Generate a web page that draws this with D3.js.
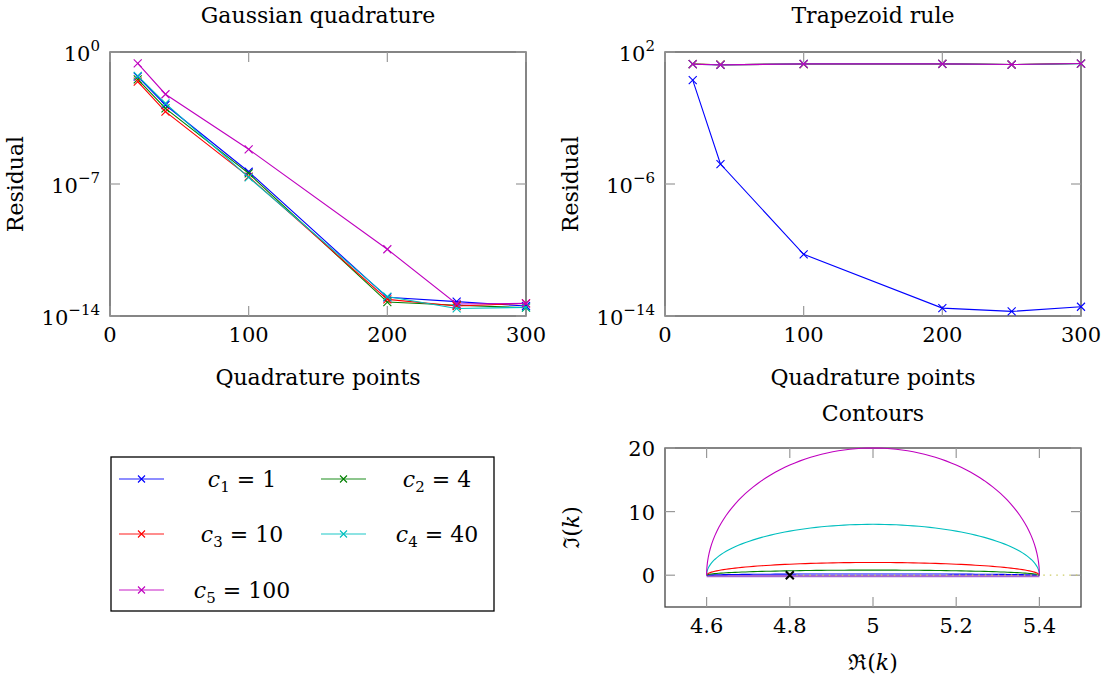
<!DOCTYPE html>
<html><head><meta charset="utf-8">
<script src="https://cdn.jsdelivr.net/npm/d3@7"></script>
<style>
body{margin:0;background:#fff;}
svg text{font-family:"DejaVu Serif","Liberation Serif",serif;fill:#000;}
</style></head>
<body><svg id="chart" width="1105" height="686"></svg>
<script>
// ---------------- data ----------------
const quadPoints = [20, 40, 100, 200, 250, 300];
const seriesNames = ["c1","c2","c3","c4","c5"];
const seriesSub = ["1","2","3","4","5"];
const seriesC = [1, 4, 10, 40, 100];
const seriesColors = ["#0000ff","#008000","#ff0000","#00bfbf","#bf00bf"];
// Gaussian quadrature residuals (log10)
const gaussC1 = [-1.31, -2.81, -6.35, -13.01, -13.24, -13.47];
const gaussC2 = [-1.45, -2.99, -6.44, -13.26, -13.43, -13.56];
const gaussC3 = [-1.57, -3.16, -6.61, -13.12, -13.47, -13.33];
const gaussC4 = [-1.27, -2.72, -6.65, -12.97, -13.60, -13.54];
const gaussC5 = [-0.60, -2.24, -5.16, -10.46, -13.36, -13.33];
// Trapezoid rule residuals (log10)
const trapC1 = [0.30, -4.79, -10.26, -13.52, -13.72, -13.44];
const trapC2 = [1.27, 1.23, 1.27, 1.28, 1.24, 1.30];
const trapC3 = [1.27, 1.23, 1.27, 1.28, 1.24, 1.30];
const trapC4 = [1.26, 1.22, 1.28, 1.28, 1.24, 1.29];
const trapC5 = [1.26, 1.22, 1.28, 1.28, 1.24, 1.30];
const gaussYTicks = [0, -7, -14];
const trapYTicks = [2, -6, -14];
const quadXTicks = [0, 100, 200, 300];
// Contours: semi-ellipses over [4.6, 5.4] with heights c/5
const contourLeft = 4.6, contourRight = 5.4;
const contourHeights = [0.2, 0.8, 2, 8, 20];
const contourXTicks = [4.6, 4.8, 5, 5.2, 5.4];
const contourYTicks = [0, 10, 20];
const markerPoint = [4.8, 0];
const dottedSegment = [[4.8, 0], [5.5, 0]];

// ---------------- drawing ----------------
const svg = d3.select("#chart");
const frameColor = "#444", tickColor = "#999", tickLen = 10;
const fs = 22, tfs = 21;

function crossPath(x, y, r) {
  return `M${x-r},${y-r}L${x+r},${y+r}M${x-r},${y+r}L${x+r},${y-r}`;
}

function frame(g, x0, x1, y0, y1) {
  g.append("rect").attr("x", x0).attr("y", y0).attr("width", x1 - x0).attr("height", y1 - y0)
    .attr("fill", "none").attr("stroke", frameColor).attr("stroke-width", 1.3);
}

function xTicks(g, xs, ticks, y0, y1, fmt) {
  ticks.forEach(t => {
    const x = xs(t);
    g.append("line").attr("x1", x).attr("x2", x).attr("y1", y1).attr("y2", y1 - tickLen).attr("stroke", tickColor).attr("stroke-width", 1.2);
    g.append("line").attr("x1", x).attr("x2", x).attr("y1", y0).attr("y2", y0 + tickLen).attr("stroke", tickColor).attr("stroke-width", 1.2);
    g.append("text").attr("x", x).attr("y", y1 + 26).attr("text-anchor", "middle").attr("font-size", tfs).text(fmt(t));
  });
}

function yTicksLog(g, ys, ticks, x0, x1) {
  ticks.forEach(t => {
    const y = ys(Math.pow(10, t));
    g.append("line").attr("x1", x0).attr("x2", x0 + tickLen).attr("y1", y).attr("y2", y).attr("stroke", tickColor).attr("stroke-width", 1.2);
    g.append("line").attr("x1", x1).attr("x2", x1 - tickLen).attr("y1", y).attr("y2", y).attr("stroke", tickColor).attr("stroke-width", 1.2);
    const tx = g.append("text").attr("x", x0 - 10).attr("y", y + 9).attr("text-anchor", "end").attr("font-size", tfs);
    tx.append("tspan").text("10");
    tx.append("tspan").attr("dy", -10).attr("font-size", 15).text(String(t).replace("-", "\u2212"));
  });
}

function logPanel(x0, x1, y0, y1, yDomain, xData, series, yTicks, title, xAxisLabel) {
  const g = svg.append("g");
  const xs = d3.scaleLinear().domain([0, 300]).range([x0, x1]);
  const ys = d3.scaleLog().domain(yDomain).range([y1, y0]);
  frame(g, x0, x1, y0, y1);
  xTicks(g, xs, quadXTicks, y0, y1, d => d);
  yTicksLog(g, ys, yTicks, x0, x1);
  const line = d3.line().x(d => xs(d[0])).y(d => ys(Math.pow(10, d[1])));
  series.forEach((vals, i) => {
    const pts = xData.map((x, j) => [x, vals[j]]);
    g.append("path").attr("d", line(pts)).attr("fill", "none").attr("stroke", seriesColors[i]).attr("stroke-width", 1.1);
    pts.forEach(p => {
      g.append("path").attr("d", crossPath(xs(p[0]), ys(Math.pow(10, p[1])), 4)).attr("stroke", seriesColors[i]).attr("stroke-width", 1.1).attr("fill", "none");
    });
  });
  g.append("text").attr("x", (x0 + x1) / 2).attr("y", 23).attr("text-anchor", "middle").attr("font-size", fs).text(title);
  g.append("text").attr("x", (x0 + x1) / 2).attr("y", 385).attr("text-anchor", "middle").attr("font-size", fs).text(xAxisLabel);
  g.append("text").attr("transform", `translate(${x0 - 87},${(y0 + y1) / 2}) rotate(-90)`).attr("text-anchor", "middle").attr("font-size", fs).text("Residual");
}

logPanel(110, 526, 52, 316, [1e-14, 1e0], quadPoints,
  [gaussC1, gaussC2, gaussC3, gaussC4, gaussC5], gaussYTicks, "Gaussian quadrature", "Quadrature points");
logPanel(665, 1081, 52, 316, [1e-14, 1e2], quadPoints,
  [trapC1, trapC2, trapC3, trapC4, trapC5], trapYTicks, "Trapezoid rule", "Quadrature points");

// Contours panel
(function () {
  const x0 = 665, x1 = 1081, y0 = 448, y1 = 607;
  const g = svg.append("g");
  const xs = d3.scaleLinear().domain([4.5, 5.5]).range([x0, x1]);
  const ys = d3.scaleLinear().domain([-5, 20]).range([y1, y0]);
  frame(g, x0, x1, y0, y1);
  xTicks(g, xs, contourXTicks, y0, y1, d => d3.format("")(d));
  contourYTicks.forEach(t => {
    const y = ys(t);
    g.append("line").attr("x1", x0).attr("x2", x0 + tickLen).attr("y1", y).attr("y2", y).attr("stroke", tickColor).attr("stroke-width", 1.2);
    g.append("line").attr("x1", x1).attr("x2", x1 - tickLen).attr("y1", y).attr("y2", y).attr("stroke", tickColor).attr("stroke-width", 1.2);
    g.append("text").attr("x", x0 - 10).attr("y", y + 8).attr("text-anchor", "end").attr("font-size", tfs).text(t);
  });
  const line = d3.line().x(d => xs(d[0])).y(d => ys(d[1]));
  const cx = (contourLeft + contourRight) / 2, rx = (contourRight - contourLeft) / 2;
  // return path along the real axis (lower edge)
  g.append("path").attr("d", line([[contourLeft, -0.15], [contourRight, -0.15]]))
    .attr("stroke", "#9040c0").attr("stroke-width", 2.2).attr("stroke-opacity", 0.8).attr("fill", "none");
  contourHeights.forEach((h, i) => {
    const pts = d3.range(0, 181, 2).map(a => [cx - rx * Math.cos(a * Math.PI / 180), h * Math.sin(a * Math.PI / 180)]);
    g.append("path").attr("d", line(pts)).attr("fill", "none").attr("stroke", seriesColors[i]).attr("stroke-width", 1.1);
  });
  g.append("path").attr("d", line(dottedSegment)).attr("stroke", "#cccc66").attr("stroke-width", 1.3)
    .attr("stroke-dasharray", "1.5,5").attr("fill", "none");
  g.append("path").attr("d", crossPath(xs(markerPoint[0]), ys(markerPoint[1]), 4)).attr("stroke", "#000").attr("stroke-width", 2).attr("fill", "none");
  g.append("text").attr("x", (x0 + x1) / 2).attr("y", 421).attr("text-anchor", "middle").attr("font-size", fs).text("Contours");
  const xl = g.append("text").attr("x", (x0 + x1) / 2).attr("y", 670).attr("text-anchor", "middle").attr("font-size", fs);
  xl.append("tspan").text("\u211C(");
  xl.append("tspan").attr("font-style", "italic").text("k");
  xl.append("tspan").text(")");
  const yl = g.append("text").attr("transform", `translate(579,${(y0 + y1) / 2}) rotate(-90)`).attr("text-anchor", "middle").attr("font-size", fs);
  yl.append("tspan").text("\u2111(");
  yl.append("tspan").attr("font-style", "italic").text("k");
  yl.append("tspan").text(")");
})();

// Legend
(function () {
  const g = svg.append("g");
  g.append("rect").attr("x", 111).attr("y", 457).attr("width", 383).attr("height", 154)
    .attr("fill", "#fff").attr("stroke", "#000").attr("stroke-width", 1.3);
  const rowY = [479, 534, 590];
  const colLine = [119, 321];
  const colText = [242, 437];
  seriesNames.forEach((n, i) => {
    const col = i % 2, row = Math.floor(i / 2);
    const y = rowY[row];
    g.append("line").attr("x1", colLine[col]).attr("x2", colLine[col] + 45).attr("y1", y).attr("y2", y)
      .attr("stroke", seriesColors[i]).attr("stroke-width", 1.6).attr("stroke-opacity", 0.6);
    g.append("path").attr("d", crossPath(colLine[col] + 22.5, y, 3.5)).attr("stroke", seriesColors[i]).attr("stroke-width", 1.1).attr("fill", "none");
    const t = g.append("text").attr("x", colText[col]).attr("y", y + 8).attr("text-anchor", "middle").attr("font-size", 22);
    t.append("tspan").attr("font-style", "italic").text("c");
    t.append("tspan").attr("font-size", 15).attr("dy", 5).text(seriesSub[i]);
    t.append("tspan").attr("dy", -5).text(" = " + seriesC[i]);
  });
})();
</script></body></html>
